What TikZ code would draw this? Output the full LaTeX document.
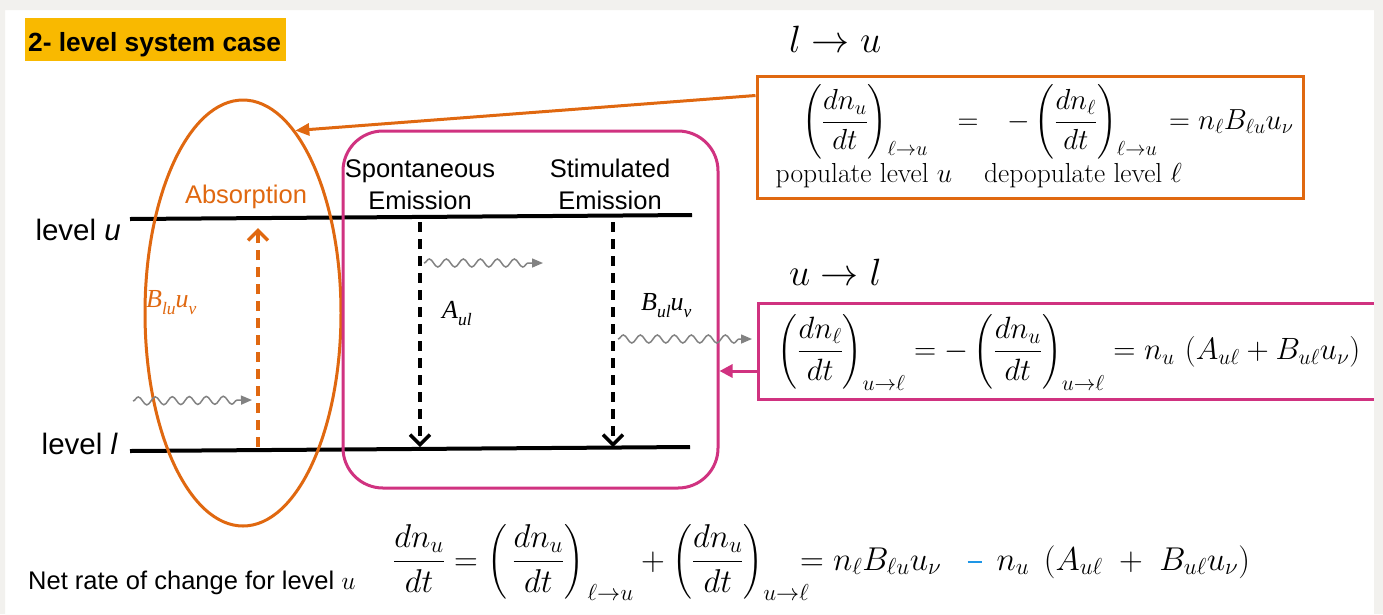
\RequirePackage{fix-cm}
\documentclass[tikz,border=0pt]{standalone}
\usepackage{amsmath}
\usepackage{fontspec}
\newfontfamily\sansf{Liberation Sans}
\newfontfamily\timesf{Liberation Serif}
\usetikzlibrary{arrows.meta,decorations.pathmorphing,shapes.geometric}
\definecolor{orng}{RGB}{224,104,16}
\definecolor{pnk}{RGB}{208,50,128}
\definecolor{gold}{RGB}{249,185,0}
\definecolor{framec}{RGB}{242,241,238}
\definecolor{wave}{RGB}{130,130,130}
\definecolor{bluem}{RGB}{30,150,230}
\newcommand\tsub[1]{\raisebox{-0.3em}{\fontsize{17.5}{17.5}\selectfont #1}}
\newcommand\upsub[1]{_{\raisebox{5pt}{$\scriptstyle #1$}}}
\tikzset{
  lvl/.style={line width=4pt, black, line cap=butt},
  wavy/.style={draw=wave, line width=1.5pt, decorate,
    decoration={snake, segment length=17pt, amplitude=4pt, post length=9pt},
    -{Triangle[length=11pt,width=9pt]}},
  dasharr/.style={line width=3.5pt, dash pattern=on 10pt off 7pt,
    -{Straight Barb[length=10pt,width=20pt]}},
  sanslbl/.style={font=\sansf\fontsize{25.5}{30}\selectfont, inner sep=0pt},
  levellbl/.style={font=\sansf\fontsize{29.5}{33}\selectfont, inner sep=0pt, anchor=base east},
  eqtop/.style={font=\fontsize{29}{35}\selectfont, inner sep=0pt},
  captf/.style={font=\fontsize{27.5}{33}\selectfont, inner sep=0pt},
  eqpink/.style={font=\fontsize{30.8}{36}\selectfont, inner sep=0pt},
  eqbot/.style={font=\fontsize{33}{40}\selectfont, inner sep=0pt},
  headf/.style={font=\fontsize{38}{44}\selectfont, inner sep=0pt, anchor=base west},
  coef/.style={font=\timesf\itshape\fontsize{26}{30}\selectfont, inner sep=0pt, anchor=base west},
}
\begin{document}
\begin{tikzpicture}[x=1pt,y=-1pt]
\useasboundingbox (0,0) rectangle (1383,614);
\fill[white] (0,0) rectangle (1383,614);

% title
\node[fill=gold, minimum width=261pt, minimum height=43pt, inner sep=0pt] (titlebox) at (155.5,39.5) {};
\node[font=\sansf\bfseries\fontsize{26.3}{30}\selectfont, inner sep=0pt, anchor=base west] (title) at (28,51) {2- level system case};

% headings
\node[headf] (h1) at (789,52) {$l\rightarrow u$};
\node[headf] (h2) at (789,285) {$u\rightarrow l$};

% levels
\coordinate (lu1) at (130,219);
\coordinate (lu2) at (692,215);
\coordinate (ll1) at (130,451);
\coordinate (ll2) at (690,447);
\draw[lvl] (lu1) -- (lu2);
\draw[lvl] (ll1) -- (ll2);
\node[levellbl] (lvu) at (121,240) {level \textit{u}};
\node[levellbl] (lvl) at (118,454) {level \textit{l}};

% absorption ellipse
\node[ellipse, draw=orng, line width=3pt, minimum width=196pt, minimum height=426pt, inner sep=0pt] (absell) at (243,313) {};
\node[sanslbl, text=orng, anchor=base] (abslbl) at (246,203) {Absorption};
\node[coef, text=orng] (blu) at (146,307) {B\tsub{lu}u\tsub{v}};
\coordinate (ab1) at (258,447);
\coordinate (ab2) at (258,228);
\draw[dasharr, orng] (ab1) -- (ab2);

% emission box
\node[draw=pnk, line width=3pt, rounded corners=40pt, minimum width=375pt, minimum height=357pt, inner sep=0pt] (emitbox) at (530.5,309.5) {};
\node[sanslbl, anchor=base] (sp1) at (420,177) {Spontaneous};
\node[sanslbl, anchor=base] (sp2) at (420,209) {Emission};
\node[sanslbl, anchor=base] (st1) at (610,177) {Stimulated};
\node[sanslbl, anchor=base] (st2) at (610,209) {Emission};
\coordinate (sa1) at (420,222);
\coordinate (sa2) at (420,447);
\coordinate (ta1) at (613,222);
\coordinate (ta2) at (613,447);
\draw[dasharr, black] (sa1) -- (sa2);
\draw[dasharr, black] (ta1) -- (ta2);
\node[coef] (aul) at (442,318) {A\tsub{ul}};
\node[coef] (bul) at (641,310) {B\tsub{ul}u\tsub{v}};

% photons
\coordinate (w1a) at (133,401);
\coordinate (w1b) at (252,400);
\coordinate (w2a) at (424,263);
\coordinate (w2b) at (543,263);
\coordinate (w3a) at (618,339);
\coordinate (w3b) at (752,339);
\draw[wavy] (w1a) -- (w1b);
\draw[wavy] (w2a) -- (w2b);
\draw[wavy] (w3a) -- (w3b);

% top box l -> u
\node[draw=orng, line width=3pt, minimum width=546pt, minimum height=122pt, inner sep=0pt] (topbox) at (1030,137) {};
\node[eqtop, anchor=base west] (t1) at (802,129.3) {$\displaystyle\left(\frac{dn_u}{dt}\right)\upsub{\ell\rightarrow u}$};
\node[eqtop, anchor=base] (t2) at (968,129.3) {$=$};
\node[eqtop, anchor=base west] (t3) at (1007,129.3) {$\displaystyle-\left(\frac{dn_\ell}{dt}\right)\upsub{\ell\rightarrow u}$};
\node[eqtop, anchor=base west] (t4) at (1169,129.3) {$=n_\ell B_{\ell u}u_\nu$};
\node[captf, anchor=base] (c1) at (864,182) {populate level $u$};
\node[captf, anchor=base] (c2) at (1083,182) {depopulate level $\ell$};
\coordinate (tb) at ([yshift=-21pt]topbox.north west);
\draw[orng, line width=3pt, -{Triangle[length=14pt,width=12pt]}] (tb) -- (absell.74);

% right box u -> l
\node[draw=pnk, line width=3pt, minimum width=620pt, minimum height=96pt, inner sep=0pt] (ulbox) at (1068,351) {};
\node[eqpink, anchor=base] (e2) at (1069,359.5) {$\displaystyle\left(\frac{dn_\ell}{dt}\right)_{u\rightarrow\ell}=-\left(\frac{dn_u}{dt}\right)_{u\rightarrow\ell}=n_u\,\left(A_{u\ell}+B_{u\ell}u_\nu\right)$};
\coordinate (pa) at ([yshift=-20pt]ulbox.west);
\draw[pnk, line width=3pt, -{Triangle[length=13pt,width=13pt]}] (pa) -- (pa -| emitbox.east);

% bottom
\node[font=\sansf\fontsize{25.5}{30}\selectfont, inner sep=0pt, anchor=base west] (net) at (28,589) {Net rate of change for level $u$};
\node[eqbot, anchor=base west] (e3) at (393,570) {$\displaystyle\frac{dn_u}{dt}=\left(\,\frac{dn_u}{dt}\right)_{\,\ell\rightarrow u}+\left(\frac{dn_u}{dt}\right)_{u\rightarrow\ell}\mkern-10mu=n_\ell B_{\ell u}u_\nu\hspace{0.8em}\mathord{\textcolor{bluem}{\rule[7.5pt]{14pt}{2pt}}}\hspace{0.45em}n_u\;\left(A_{u\ell}\;+\;B_{u\ell}u_\nu\right)$};

% outer frame
\fill[framec, even odd rule] (0,0) rectangle (1383,614) (5,10) rectangle (1374,614);
\end{tikzpicture}
\end{document}
